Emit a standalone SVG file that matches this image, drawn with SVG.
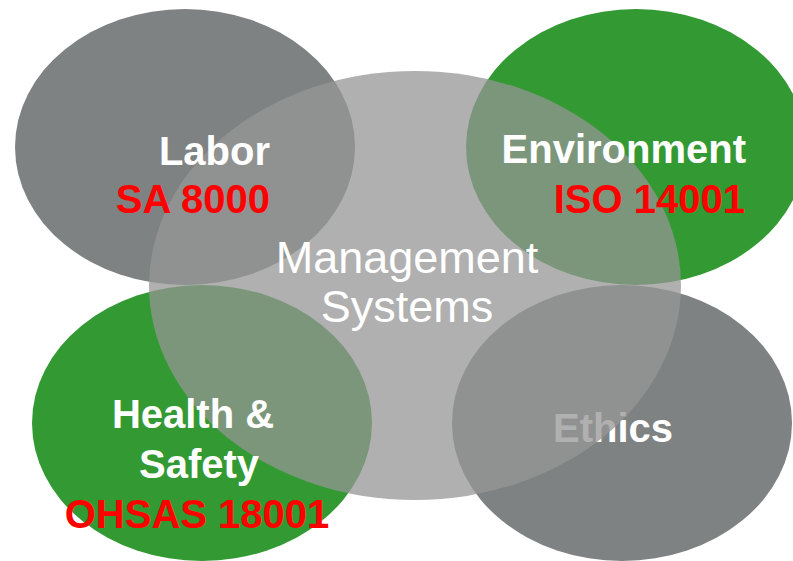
<svg xmlns="http://www.w3.org/2000/svg" width="793" height="561" viewBox="0 0 793 561">
<style>
.gray{fill:#7f8282}
.green{fill:#339933}
.center{fill:#969696;fill-opacity:0.75}
.t{font-family:"Liberation Sans",Arial,sans-serif;font-weight:bold;font-size:40px}
.w{fill:#ffffff}
.r{fill:#ff0000}
.m{font-family:"Liberation Sans",Arial,sans-serif;font-size:45px;fill:#ffffff;text-anchor:middle}
</style>
<rect width="793" height="561" fill="#ffffff"/>
<g id="labor"><ellipse class="gray" cx="185" cy="147" rx="170" ry="138"/></g>
<g id="environment"><ellipse class="green" cx="636" cy="147" rx="170" ry="138"/></g>
<g id="health-safety"><ellipse class="green" cx="202" cy="423" rx="170" ry="138"/></g>
<g id="ethics"><ellipse class="gray" cx="622" cy="423" rx="170" ry="138"/>
<text class="t w" x="553" y="442">Ethics</text></g>
<g id="management-systems"><ellipse class="center" cx="415" cy="285.5" rx="266" ry="214.5"/>
<text class="m" x="407" y="273">Management</text>
<text class="m" x="407" y="322">Systems</text></g>
<g id="labor-text">
<text class="t w" x="270" y="165" text-anchor="end">Labor</text>
<text class="t r" x="270" y="213" text-anchor="end">SA 8000</text></g>
<g id="environment-text">
<text class="t w" x="746" y="163" text-anchor="end">Environment</text>
<text class="t r" x="745" y="213" text-anchor="end">ISO 14001</text></g>
<g id="health-safety-text">
<text class="t w" x="193" y="428" text-anchor="middle">Health &amp;</text>
<text class="t w" x="199" y="478" text-anchor="middle">Safety</text>
<text class="t r" x="197" y="528" text-anchor="middle">OHSAS 18001</text></g>
<g id="connectors"/>
</svg>
